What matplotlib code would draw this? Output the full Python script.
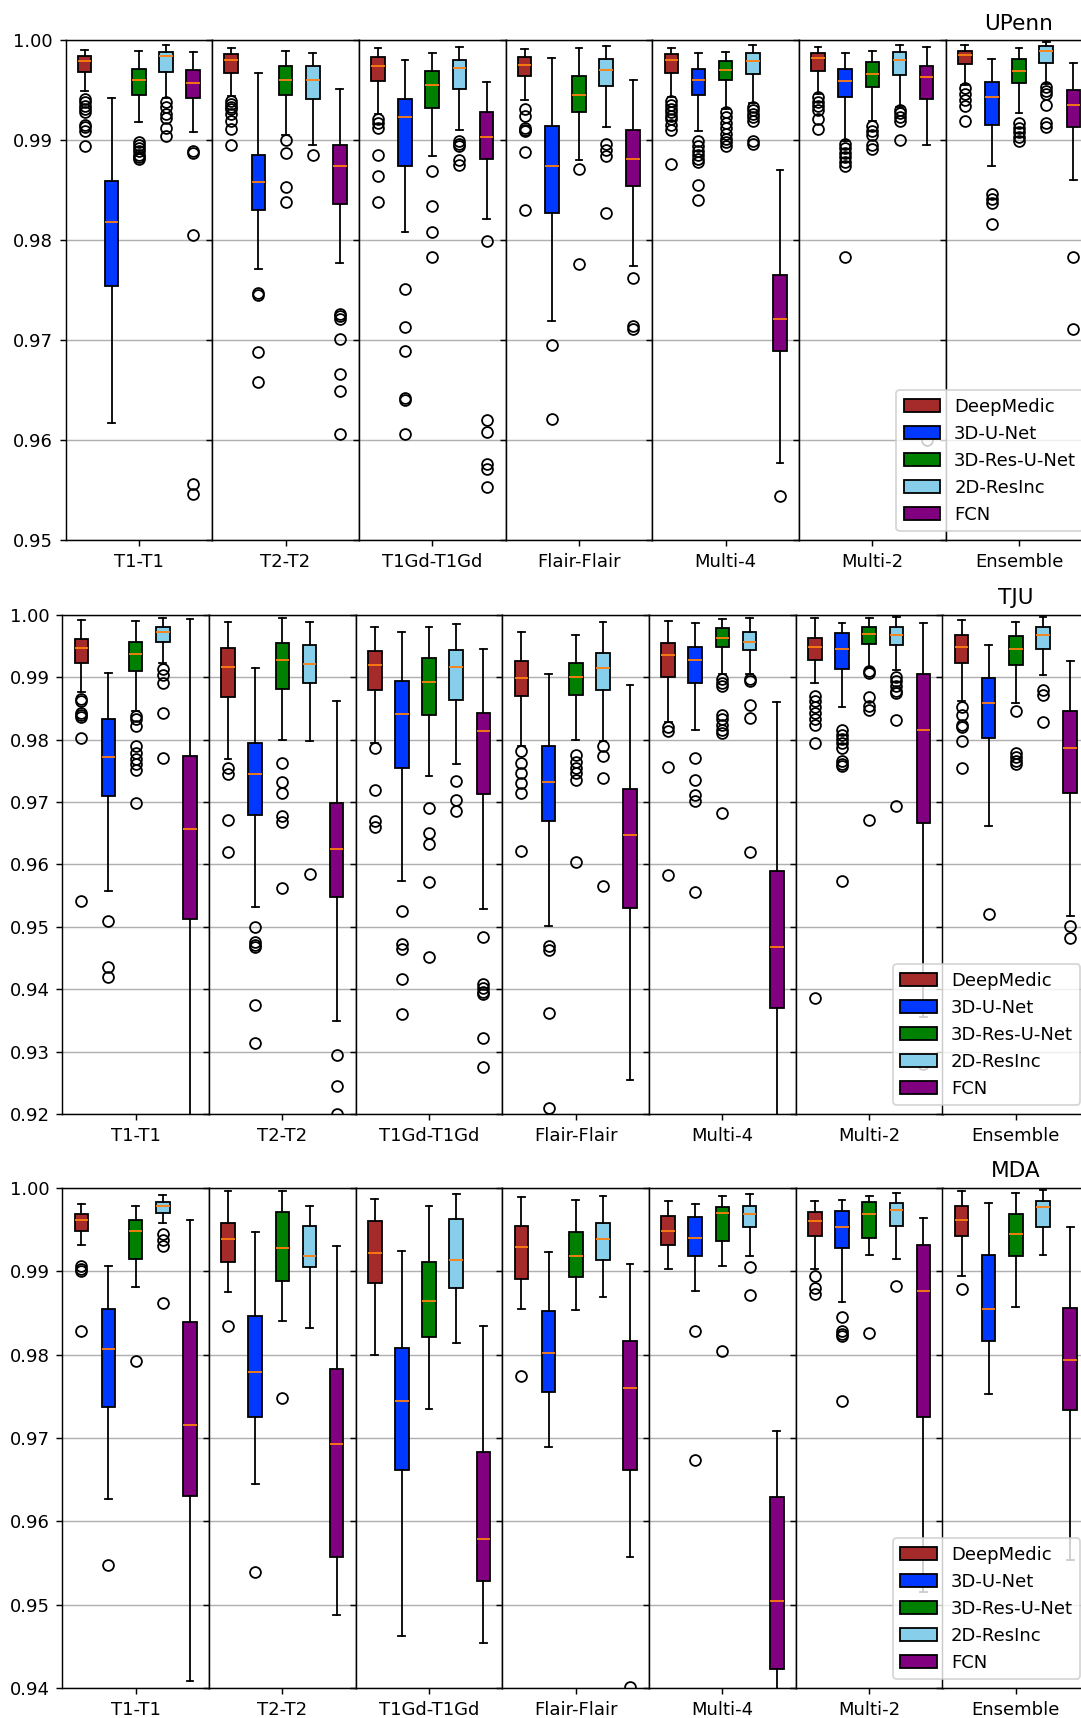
import numpy as np
import matplotlib
matplotlib.use("Agg")
import matplotlib.pyplot as plt
from matplotlib.patches import Patch
from matplotlib.ticker import FormatStrFormatter

GROUPS = ["T1-T1", "T2-T2", "T1Gd-T1Gd", "Flair-Flair", "Multi-4", "Multi-2", "Ensemble"]
MODELS = ["DeepMedic", "3D-U-Net", "3D-Res-U-Net", "2D-ResInc", "FCN"]
COLORS = ["#a52a2a", "#0038ff", "#008000", "#87ceeb", "#800080"]

# ---------------- UPenn ----------------
UPENN_WHISHI = [
    [0.9990, 0.9942, 0.9989, 0.9995, 0.9988],
    [0.9992, 0.9967, 0.9989, 0.9987, 0.9951],
    [0.9992, 0.9980, 0.9987, 0.9993, 0.9958],
    [0.9991, 0.9982, 0.9992, 0.9994, 0.9960],
    [0.9992, 0.9987, 0.9988, 0.9995, 0.9870],
    [0.9993, 0.9987, 0.9989, 0.9995, 0.9993],
    [0.9995, 0.9981, 0.9992, 0.9998, 0.9977],
]
UPENN_Q3 = [
    [0.9984, 0.9859, 0.9971, 0.9988, 0.9970],
    [0.9986, 0.9885, 0.9974, 0.9974, 0.9895],
    [0.9983, 0.9941, 0.9969, 0.9980, 0.9928],
    [0.9983, 0.9914, 0.9964, 0.9981, 0.9910],
    [0.9986, 0.9971, 0.9979, 0.9987, 0.9765],
    [0.9987, 0.9971, 0.9978, 0.9988, 0.9974],
    [0.9989, 0.9958, 0.9981, 0.9994, 0.9950],
]
UPENN_MED = [
    [0.9979, 0.9818, 0.9960, 0.9984, 0.9957],
    [0.9980, 0.9858, 0.9960, 0.9960, 0.9874],
    [0.9974, 0.9923, 0.9955, 0.9972, 0.9903],
    [0.9975, 0.9874, 0.9945, 0.9970, 0.9881],
    [0.9980, 0.9960, 0.9970, 0.9979, 0.9721],
    [0.9982, 0.9959, 0.9966, 0.9980, 0.9963],
    [0.9985, 0.9943, 0.9969, 0.9989, 0.9935],
]
UPENN_Q1 = [
    [0.9968, 0.9754, 0.9945, 0.9968, 0.9942],
    [0.9967, 0.9830, 0.9945, 0.9941, 0.9836],
    [0.9959, 0.9874, 0.9932, 0.9951, 0.9881],
    [0.9964, 0.9827, 0.9928, 0.9954, 0.9854],
    [0.9967, 0.9945, 0.9960, 0.9966, 0.9689],
    [0.9969, 0.9943, 0.9953, 0.9965, 0.9941],
    [0.9976, 0.9915, 0.9957, 0.9977, 0.9913],
]
UPENN_WHISLO = [
    [0.9949, 0.9617, 0.9918, 0.9942, 0.9908],
    [0.9944, 0.9771, 0.9905, 0.9895, 0.9777],
    [0.9926, 0.9808, 0.9884, 0.9910, 0.9821],
    [0.9940, 0.9719, 0.9880, 0.9913, 0.9774],
    [0.9943, 0.9909, 0.9931, 0.9937, 0.9577],
    [0.9946, 0.9899, 0.9919, 0.9933, 0.9895],
    [0.9955, 0.9874, 0.9927, 0.9956, 0.9860],
]
UPENN_FLIERS = [
    [[0.9941, 0.9938, 0.9934, 0.9931, 0.9928, 0.9915, 0.9913, 0.9909, 0.9894],
     [],
     [0.9898, 0.9895, 0.9892, 0.9889, 0.9885, 0.9883, 0.9881],
     [0.9938, 0.9933, 0.9926, 0.9922, 0.9912, 0.9904],
     [0.9889, 0.9887, 0.9805, 0.9556, 0.9546]],
    [[0.9939, 0.9936, 0.9933, 0.9931, 0.9926, 0.9919, 0.9911, 0.9895],
     [0.9747, 0.9745, 0.9688, 0.9658],
     [0.9900, 0.9887, 0.9853, 0.9838],
     [0.9885],
     [0.9726, 0.9724, 0.9721, 0.9701, 0.9666, 0.9649, 0.9606]],
    [[0.9921, 0.9917, 0.9912, 0.9885, 0.9864, 0.9838],
     [0.9751, 0.9713, 0.9689, 0.9642, 0.9640, 0.9606],
     [0.9869, 0.9834, 0.9808, 0.9783],
     [0.9899, 0.9896, 0.9894, 0.9880, 0.9875],
     [0.9799, 0.9620, 0.9608, 0.9576, 0.9571, 0.9553]],
    [[0.9931, 0.9924, 0.9912, 0.9910, 0.9909, 0.9888, 0.9830],
     [0.9695, 0.9621],
     [0.9871, 0.9776],
     [0.9896, 0.9890, 0.9884, 0.9827],
     [0.9762, 0.9714, 0.9711]],
    [[0.9939, 0.9935, 0.9931, 0.9928, 0.9924, 0.9921, 0.9915, 0.9910, 0.9876],
     [0.9899, 0.9894, 0.9889, 0.9885, 0.9881, 0.9878, 0.9855, 0.9840],
     [0.9928, 0.9923, 0.9917, 0.9912, 0.9906, 0.9901, 0.9898, 0.9894],
     [0.9933, 0.9930, 0.9926, 0.9923, 0.9919, 0.9899, 0.9896],
     [0.9544]],
    [[0.9943, 0.9938, 0.9934, 0.9930, 0.9921, 0.9911],
     [0.9896, 0.9892, 0.9887, 0.9883, 0.9878, 0.9874, 0.9783],
     [0.9914, 0.9909, 0.9905, 0.9895, 0.9891],
     [0.9930, 0.9927, 0.9923, 0.9919, 0.9900],
     [0.9600]],
    [[0.9952, 0.9946, 0.9940, 0.9934, 0.9919],
     [0.9846, 0.9841, 0.9837, 0.9816],
     [0.9917, 0.9912, 0.9908, 0.9903, 0.9899],
     [0.9953, 0.9949, 0.9946, 0.9935, 0.9917, 0.9913],
     [0.9783, 0.9711]],
]

# ---------------- TJU ----------------
TJU_WHISHI = [
    [0.9991, 0.9906, 0.9990, 0.9995, 0.9993],
    [0.9988, 0.9914, 0.9994, 0.9988, 0.9861],
    [0.9980, 0.9972, 0.9980, 0.9985, 0.9945],
    [0.9972, 0.9905, 0.9967, 0.9988, 0.9887],
    [0.9990, 0.9986, 0.9993, 0.9995, 0.9860],
    [0.9994, 0.9987, 0.9995, 0.9996, 0.9987],
    [0.9991, 0.9951, 0.9989, 0.9997, 0.9926],
]
TJU_Q3 = [
    [0.9961, 0.9833, 0.9957, 0.9981, 0.9773],
    [0.9946, 0.9794, 0.9954, 0.9951, 0.9698],
    [0.9942, 0.9893, 0.9930, 0.9944, 0.9842],
    [0.9926, 0.9790, 0.9923, 0.9938, 0.9721],
    [0.9955, 0.9949, 0.9979, 0.9973, 0.9590],
    [0.9963, 0.9970, 0.9980, 0.9980, 0.9905],
    [0.9967, 0.9898, 0.9966, 0.9980, 0.9845],
]
TJU_MED = [
    [0.9947, 0.9772, 0.9937, 0.9973, 0.9656],
    [0.9917, 0.9744, 0.9927, 0.9921, 0.9625],
    [0.9920, 0.9841, 0.9892, 0.9917, 0.9813],
    [0.9898, 0.9732, 0.9900, 0.9915, 0.9647],
    [0.9935, 0.9928, 0.9963, 0.9957, 0.9468],
    [0.9949, 0.9945, 0.9969, 0.9968, 0.9815],
    [0.9948, 0.9859, 0.9945, 0.9967, 0.9786],
]
TJU_Q1 = [
    [0.9923, 0.9710, 0.9910, 0.9956, 0.9513],
    [0.9868, 0.9679, 0.9881, 0.9890, 0.9548],
    [0.9880, 0.9755, 0.9839, 0.9864, 0.9712],
    [0.9869, 0.9670, 0.9871, 0.9880, 0.9530],
    [0.9900, 0.9891, 0.9948, 0.9944, 0.9370],
    [0.9928, 0.9913, 0.9953, 0.9951, 0.9666],
    [0.9922, 0.9803, 0.9919, 0.9945, 0.9714],
]
TJU_WHISLO = [
    [0.9876, 0.9558, 0.9845, 0.9923, 0.9150],
    [0.9768, 0.9531, 0.9800, 0.9798, 0.9349],
    [0.9795, 0.9574, 0.9741, 0.9760, 0.9529],
    [0.9790, 0.9502, 0.9800, 0.9798, 0.9255],
    [0.9828, 0.9815, 0.9905, 0.9905, 0.9150],
    [0.9891, 0.9852, 0.9915, 0.9912, 0.9356],
    [0.9862, 0.9661, 0.9859, 0.9903, 0.9517],
]
TJU_FLIERS = [
    [[0.9865, 0.9861, 0.9842, 0.9839, 0.9836, 0.9802, 0.9541],
     [0.9510, 0.9435, 0.9420],
     [0.9837, 0.9833, 0.9821, 0.9789, 0.9778, 0.9769, 0.9760, 0.9751, 0.9698],
     [0.9913, 0.9903, 0.9890, 0.9843, 0.9771],
     []],
    [[0.9754, 0.9744, 0.9671, 0.9619],
     [0.9500, 0.9475, 0.9470, 0.9468, 0.9374, 0.9313],
     [0.9762, 0.9732, 0.9714, 0.9678, 0.9668, 0.9562],
     [0.9584],
     [0.9294, 0.9245, 0.9200]],
    [[0.9786, 0.9719, 0.9670, 0.9660],
     [0.9526, 0.9473, 0.9465, 0.9417, 0.9360],
     [0.9690, 0.9651, 0.9633, 0.9571, 0.9452],
     [0.9734, 0.9703, 0.9686],
     [0.9484, 0.9408, 0.9402, 0.9396, 0.9393, 0.9322, 0.9276]],
    [[0.9782, 0.9763, 0.9746, 0.9731, 0.9715, 0.9622],
     [0.9469, 0.9463, 0.9362, 0.9209],
     [0.9775, 0.9764, 0.9754, 0.9746, 0.9735, 0.9603],
     [0.9789, 0.9774, 0.9739, 0.9565],
     []],
    [[0.9820, 0.9814, 0.9756, 0.9583],
     [0.9770, 0.9735, 0.9711, 0.9702, 0.9555],
     [0.9897, 0.9891, 0.9885, 0.9839, 0.9833, 0.9824, 0.9815, 0.9810, 0.9683],
     [0.9897, 0.9893, 0.9855, 0.9834, 0.9619],
     []],
    [[0.9869, 0.9862, 0.9852, 0.9842, 0.9833, 0.9824, 0.9795, 0.9386],
     [0.9815, 0.9808, 0.9801, 0.9795, 0.9786, 0.9766, 0.9760, 0.9757, 0.9574],
     [0.9910, 0.9906, 0.9868, 0.9853, 0.9847, 0.9671],
     [0.9900, 0.9894, 0.9885, 0.9877, 0.9874, 0.9832, 0.9694],
     [0.9280]],
    [[0.9852, 0.9839, 0.9824, 0.9820, 0.9797, 0.9754],
     [0.9520],
     [0.9846, 0.9778, 0.9772, 0.9766, 0.9760],
     [0.9880, 0.9872, 0.9828],
     [0.9502, 0.9482]],
]

# ---------------- MDA ----------------
MDA_WHISHI = [
    [0.9981, 0.9907, 0.9979, 0.9992, 0.9962],
    [0.9997, 0.9947, 0.9997, 0.9979, 0.9930],
    [0.9987, 0.9925, 0.9978, 0.9993, 0.9834],
    [0.9989, 0.9923, 0.9986, 0.9990, 0.9909],
    [0.9985, 0.9981, 0.9990, 0.9993, 0.9709],
    [0.9985, 0.9986, 0.9991, 0.9994, 0.9964],
    [0.9996, 0.9982, 0.9994, 0.9998, 0.9953],
]
MDA_Q3 = [
    [0.9969, 0.9855, 0.9962, 0.9983, 0.9839],
    [0.9958, 0.9846, 0.9971, 0.9954, 0.9783],
    [0.9960, 0.9808, 0.9911, 0.9963, 0.9683],
    [0.9955, 0.9853, 0.9947, 0.9958, 0.9817],
    [0.9967, 0.9965, 0.9977, 0.9978, 0.9629],
    [0.9971, 0.9972, 0.9983, 0.9982, 0.9932],
    [0.9979, 0.9920, 0.9969, 0.9985, 0.9856],
]
MDA_MED = [
    [0.9962, 0.9807, 0.9948, 0.9978, 0.9716],
    [0.9939, 0.9779, 0.9928, 0.9918, 0.9693],
    [0.9922, 0.9744, 0.9864, 0.9914, 0.9579],
    [0.9929, 0.9802, 0.9918, 0.9939, 0.9760],
    [0.9949, 0.9940, 0.9970, 0.9969, 0.9504],
    [0.9961, 0.9953, 0.9969, 0.9974, 0.9876],
    [0.9962, 0.9855, 0.9945, 0.9977, 0.9794],
]
MDA_Q1 = [
    [0.9949, 0.9737, 0.9915, 0.9970, 0.9630],
    [0.9911, 0.9725, 0.9888, 0.9905, 0.9557],
    [0.9886, 0.9662, 0.9821, 0.9880, 0.9529],
    [0.9891, 0.9755, 0.9893, 0.9914, 0.9662],
    [0.9932, 0.9918, 0.9936, 0.9953, 0.9423],
    [0.9942, 0.9928, 0.9940, 0.9954, 0.9725],
    [0.9943, 0.9817, 0.9919, 0.9953, 0.9734],
]
MDA_WHISLO = [
    [0.9932, 0.9627, 0.9881, 0.9958, 0.9408],
    [0.9875, 0.9645, 0.9841, 0.9832, 0.9488],
    [0.9800, 0.9462, 0.9735, 0.9814, 0.9454],
    [0.9855, 0.9689, 0.9854, 0.9869, 0.9557],
    [0.9903, 0.9877, 0.9906, 0.9918, 0.9350],
    [0.9903, 0.9863, 0.9920, 0.9915, 0.9515],
    [0.9895, 0.9753, 0.9857, 0.9920, 0.9553],
]
MDA_FLIERS = [
    [[0.9906, 0.9903, 0.9900, 0.9828], [0.9548], [0.9793],
     [0.9945, 0.9938, 0.9930, 0.9862], []],
    [[0.9835], [0.9539], [0.9748], [], []],
    [[], [], [], [], []],
    [[0.9775], [], [], [], [0.9401]],
    [[], [0.9829, 0.9673], [0.9805], [0.9905, 0.9872], []],
    [[0.9895, 0.9880, 0.9873], [0.9845, 0.9829, 0.9825, 0.9823, 0.9744],
     [0.9826], [0.9882], []],
    [[0.9879], [], [], [], []],
]

# Panel layout in pixels: (left of first group, top, bottom)
PANELS = [
    ("UPenn", UPENN_WHISLO, UPENN_Q1, UPENN_MED, UPENN_Q3, UPENN_WHISHI, UPENN_FLIERS,
     (0.95, 1.00), (65.5, 40.4, 540.0)),
    ("TJU", TJU_WHISLO, TJU_Q1, TJU_MED, TJU_Q3, TJU_WHISHI, TJU_FLIERS,
     (0.92, 1.00), (62.3, 614.7, 1114.0)),
    ("MDA", MDA_WHISLO, MDA_Q1, MDA_MED, MDA_Q3, MDA_WHISHI, MDA_FLIERS,
     (0.94, 1.00), (62.3, 1188.0, 1688.0)),
]

W_PX, H_PX, DPI = 1081, 1718, 130
GROUP_W = 146.7

fig = plt.figure(figsize=(W_PX / DPI, H_PX / DPI), dpi=DPI)
plt.rcParams["font.family"] = ["DejaVu Sans"]

positions = [1, 2, 3, 4, 5]
for title, wlo, q1, med, q3, whi, fl, ylim, (left, top, bot) in PANELS:
    axes = []
    for g, gname in enumerate(GROUPS):
        ax = fig.add_axes([(left + g * GROUP_W) / W_PX, 1 - bot / H_PX,
                           GROUP_W / W_PX, (bot - top) / H_PX])
        stats = []
        for m in range(len(MODELS)):
            stats.append(dict(whislo=wlo[g][m], q1=q1[g][m], med=med[g][m],
                              q3=q3[g][m], whishi=whi[g][m], fliers=fl[g][m]))
        res = ax.bxp(stats, positions=positions, widths=0.5, patch_artist=True,
                     boxprops=dict(edgecolor="black", linewidth=1.0),
                     medianprops=dict(color="#ff7f0e", linewidth=1.0),
                     whiskerprops=dict(color="black", linewidth=1.0),
                     capprops=dict(color="black", linewidth=1.0),
                     flierprops=dict(marker="o", markerfacecolor="none",
                                     markeredgecolor="black", markersize=6))
        for box, c in zip(res["boxes"], COLORS):
            box.set_facecolor(c)
        ax.set_xlim(0.3, 5.7)
        ax.set_ylim(*ylim)
        n = int(round((ylim[1] - ylim[0]) / 0.01))
        ax.set_yticks([round(ylim[0] + 0.01 * k, 2) for k in range(n + 1)])
        ax.yaxis.set_major_formatter(FormatStrFormatter("%.2f"))
        ax.set_xticks([3])
        ax.set_xticklabels([gname])
        ax.set_axisbelow(True)
        ax.yaxis.grid(True, color="#b0b0b0", linewidth=0.8)
        if g > 0:
            ax.tick_params(axis="y", labelleft=False)
        axes.append(ax)
    last = axes[-1]
    last.set_title(title)
    handles = [Patch(facecolor=c, edgecolor="black", label=n) for c, n in zip(COLORS, MODELS)]
    last.legend(handles=handles, loc="lower right")

fig.savefig("out.png", dpi=DPI)
